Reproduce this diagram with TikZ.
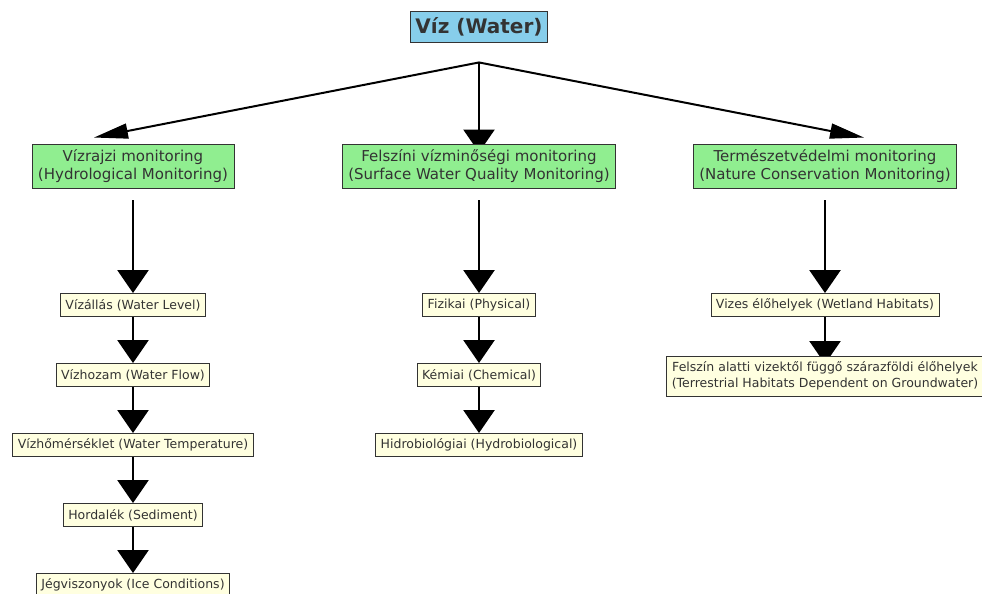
\documentclass[tikz,border=0pt]{standalone}
\usepackage{fontspec}
\setmainfont{DejaVu Sans}
\usetikzlibrary{arrows.meta,calc}
\definecolor{rootc}{HTML}{87CEEB}
\definecolor{lvlone}{HTML}{90EE90}
\definecolor{lvltwo}{HTML}{FFFFE0}
\definecolor{txt}{HTML}{333333}
\pgfdeclarelayer{bg}
\pgfsetlayers{bg,main}
\begin{document}
\begin{tikzpicture}[x=1pt,y=-1pt,
 box/.style={draw=black!80, line width=0.9pt, text=txt, inner ysep=0pt, align=center},
 rootbox/.style={box, fill=rootc, font=\fontsize{20}{24}\selectfont\bfseries, minimum height=31pt, inner xsep=5pt},
 onebox/.style={box, fill=lvlone, font=\fontsize{15}{17.5}\selectfont, minimum height=44pt, inner xsep=6pt},
 twobox/.style={box, fill=lvltwo, font=\fontsize{12.5}{15.5}\selectfont, minimum height=23pt, inner xsep=5pt},
 twoboxd/.style={twobox, minimum height=40pt},
 vline/.style={line width=2.5pt, -{Triangle[length=23pt,width=31pt]}},
 dline/.style={line width=2pt, -{Triangle[length=34pt,width=15pt]}},
]
\useasboundingbox (0,0) rectangle (982,594);

\node[rootbox] (root) at (479,26.5) {Víz (Water)};

\node[onebox] (hyd)  at (133,166) {Vízrajzi monitoring\\(Hydrological Monitoring)};
\node[onebox] (surf) at (479,166) {Felszíni vízminőségi monitoring\\(Surface Water Quality Monitoring)};
\node[onebox] (nat)  at (825,166) {Természetvédelmi monitoring\\(Nature Conservation Monitoring)};

\node[twobox] (h1) at (133,305) {Vízállás (Water Level)};
\node[twobox] (h2) at (133,375) {Vízhozam (Water Flow)};
\node[twobox] (h3) at (133,445) {Vízhőmérséklet (Water Temperature)};
\node[twobox] (h4) at (133,515) {Hordalék (Sediment)};
\node[twobox] (h5) at (133,585) {Jégviszonyok (Ice Conditions)};

\node[twobox] (s1) at (479,305) {Fizikai (Physical)};
\node[twobox] (s2) at (479,375) {Kémiai (Chemical)};
\node[twobox] (s3) at (479,445) {Hidrobiológiai (Hydrobiological)};

\node[twobox]  (n1) at (825,305) {Vizes élőhelyek (Wetland Habitats)};
\node[twoboxd] (n2) at (825,376) {Felszín alatti vizektől függő szárazföldi élőhelyek\\(Terrestrial Habitats Dependent on Groundwater)};

\coordinate (hub) at ($(root.south)+(0,20)$);
\coordinate (hydtip) at ($(hyd.north)+(-39,-6)$);
\coordinate (nattip) at ($(nat.north)+(39,-6)$);

\begin{pgfonlayer}{bg}
\fill[white] (0,0) rectangle (982,594);
\draw[dline] (hub) -- (hydtip);
\draw[dline] (hub) -- (nattip);
\draw[vline] (hub) -- ($(surf.north)+(0,9)$);

\draw[vline] ($(hyd.south)+(0,12)$) -- (h1.north);
\draw[vline] ($(surf.south)+(0,12)$) -- (s1.north);
\draw[vline] ($(nat.south)+(0,12)$) -- (n1.north);

\draw[vline] (h1.south) -- (h2.north);
\draw[vline] (h2.south) -- (h3.north);
\draw[vline] (h3.south) -- (h4.north);
\draw[vline] (h4.south) -- (h5.north);

\draw[vline] (s1.south) -- (s2.north);
\draw[vline] (s2.south) -- (s3.north);

\draw[vline] (n1.south) -- ($(n2.center)+(0,-12)$);
\end{pgfonlayer}
\end{tikzpicture}
\end{document}
